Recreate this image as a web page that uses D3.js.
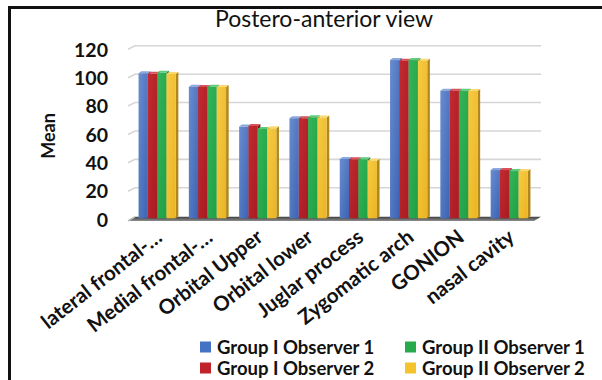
<!DOCTYPE html>
<html>
<head>
<meta charset="utf-8">
<script src="https://cdn.jsdelivr.net/npm/d3@7"></script>
<style>
  html, body { margin: 0; padding: 0; background: #fff; }
  svg { display: block; }
  text { font-family: Lato, "Open Sans", sans-serif; }
</style>
</head>
<body>
<svg id="chart" width="602" height="380"></svg>
<script>
// Mean measurements, postero-anterior view
const categories = ["lateral frontal-…", "Medial frontal-…", "Orbital Upper", "Orbital lower",
                    "Juglar process", "Zygomatic arch", "GONION", "nasal cavity"];
const seriesNames = ["Group I Observer 1", "Group I Observer 2", "Group II Observer 1", "Group II Observer 2"];
const groupIObserver1  = [102.2, 92.7, 64.6, 70.5, 41.8, 111.5, 89.9, 34.0];
const groupIObserver2  = [101.8, 92.6, 65.1, 70.5, 41.6, 111.1, 89.9, 34.0];
const groupIIObserver1 = [102.5, 92.7, 63.0, 71.2, 41.6, 111.5, 89.9, 33.3];
const groupIIObserver2 = [101.7, 92.5, 63.4, 71.0, 40.6, 111.1, 89.7, 33.3];
const yTicks = [0, 20, 40, 60, 80, 100, 120];

const seriesValues = [groupIObserver1, groupIObserver2, groupIIObserver1, groupIIObserver2];

// colour sets: front gradient (light, dark), side face, top face, legend swatch
const palette = [
  { light: "#6a8dd0", dark: "#3b63b3", side: "#2c4c8c", top: "#8aa7de", swatch: "#4472c4" },
  { light: "#c32a31", dark: "#a81b22", side: "#761317", top: "#d9525a", swatch: "#c0232b" },
  { light: "#35b558", dark: "#20a045", side: "#167532", top: "#5fcb7c", swatch: "#27aa4c" },
  { light: "#f7cb45", dark: "#e9b423", side: "#b0871c", top: "#fbd970", swatch: "#f4c22b" }
];

const svg = d3.select("#chart");
const defs = svg.append("defs");
palette.forEach((c, i) => {
  const g = defs.append("linearGradient").attr("id", "front" + i)
    .attr("x1", "0").attr("y1", "0").attr("x2", "1").attr("y2", "1");
  g.append("stop").attr("offset", "0%").attr("stop-color", c.light);
  g.append("stop").attr("offset", "100%").attr("stop-color", c.dark);
});
const floorGrad = defs.append("linearGradient").attr("id", "floorGrad")
  .attr("x1", "0").attr("y1", "0").attr("x2", "0").attr("y2", "1");
floorGrad.append("stop").attr("offset", "0%").attr("stop-color", "#3f3f3f");
floorGrad.append("stop").attr("offset", "100%").attr("stop-color", "#8c8c8c");

// frame
svg.append("rect").attr("x", 9.5).attr("y", 7.5).attr("width", 640).attr("height", 420)
  .attr("fill", "none").attr("stroke", "#111").attr("stroke-width", 3);

// title
svg.append("text").attr("x", 324).attr("y", 27).attr("text-anchor", "middle")
  .attr("font-size", 23).attr("fill", "#111").text("Postero-anterior view");

// scales
const x0 = d3.scaleBand().domain(categories).range([132, 534.4]).paddingInner(0.26).paddingOuter(0.13);
const x1 = d3.scaleBand().domain(d3.range(seriesNames.length)).range([0, x0.bandwidth()]);
const y = d3.scaleLinear().domain([0, 120]).range([218.3, 48.0]);

// 3-D depth of the back wall and of the bars
const wallFrontX = 128, wallBackX = 135, wallRight = 541;
const wallUp = 3.5;           // back wall sits this far above the front edge
const frontDrop = 1.3;        // front edge below the value line
const barDx = 2.6, barDy = 2.0;

// gridlines on the back wall with their slanted side-wall segment
const grid = svg.append("g");
yTicks.filter(v => v > 0).forEach(v => {
  const yf = y(v) + frontDrop, yb = yf - wallUp;
  grid.append("polyline")
    .attr("points", `${wallFrontX},${yf} ${wallBackX},${yb} ${wallRight},${yb}`)
    .attr("fill", "none").attr("stroke", "#d6d6d6").attr("stroke-width", 1.6);
});

// floor
const yf0 = y(0) + 2.6, yb0 = yf0 - wallUp - 0.6;
svg.append("polygon")
  .attr("points", `${wallFrontX},${yf0} ${wallBackX},${yb0} ${wallRight},${yb0} ${wallRight - 7},${yf0}`)
  .attr("fill", "url(#floorGrad)");
svg.append("line").attr("x1", wallFrontX).attr("y1", yf0).attr("x2", wallBackX).attr("y2", yb0)
  .attr("stroke", "#b5b5b5").attr("stroke-width", 1.5);

// y axis tick labels
svg.append("g").selectAll("text").data(yTicks).join("text")
  .attr("x", 108).attr("y", d => y(d) + 1.5).attr("dy", "0.36em")
  .attr("text-anchor", "end").attr("font-size", 19.5).attr("font-weight", 700).attr("fill", "#111")
  .text(d => d);

svg.append("text").attr("transform", "translate(55,136) rotate(-90)")
  .attr("text-anchor", "middle").attr("font-size", 18).attr("font-weight", 700).attr("fill", "#111")
  .text("Mean");

// bars: front face, right side face and top face
const bars = svg.append("g");
categories.forEach((cat, ci) => {
  seriesValues.forEach((vals, si) => {
    const xl = x0(cat) + x1(si), w = x1.bandwidth();
    const yt = y(vals[ci]), yb = y(0);
    const c = palette[si];
    const g = bars.append("g");
    g.append("polygon")
      .attr("points", `${xl + w},${yt} ${xl + w + barDx},${yt - barDy} ${xl + w + barDx},${yb - barDy} ${xl + w},${yb}`)
      .attr("fill", c.side);
    g.append("polygon")
      .attr("points", `${xl},${yt} ${xl + barDx},${yt - barDy} ${xl + w + barDx},${yt - barDy} ${xl + w},${yt}`)
      .attr("fill", c.top);
    g.append("rect").attr("x", xl).attr("y", yt).attr("width", w).attr("height", yb - yt)
      .attr("fill", `url(#front${si})`);
  });
});

// category labels
svg.append("g").selectAll("text").data(categories).join("text")
  .attr("transform", d => `translate(${x0(d) + x0.bandwidth() / 2 + 2},${234}) rotate(-38)`)
  .attr("text-anchor", "end").attr("dy", "0.35em")
  .attr("font-size", 20.5).attr("font-weight", 700).attr("fill", "#111")
  .text(d => d);

// legend
const legendPos = [[200, 347], [200, 368], [405, 347], [405, 368]];
const legend = svg.append("g");
seriesNames.forEach((name, i) => {
  const [lx, ly] = legendPos[i];
  legend.append("rect").attr("x", lx).attr("y", ly - 5.5).attr("width", 11).attr("height", 11)
    .attr("fill", palette[i].swatch);
  legend.append("text").attr("x", lx + 17).attr("y", ly).attr("dy", "0.36em")
    .attr("font-size", 18.5).attr("font-weight", 700).attr("fill", "#111")
    .text(name);
});
</script>
</body>
</html>
